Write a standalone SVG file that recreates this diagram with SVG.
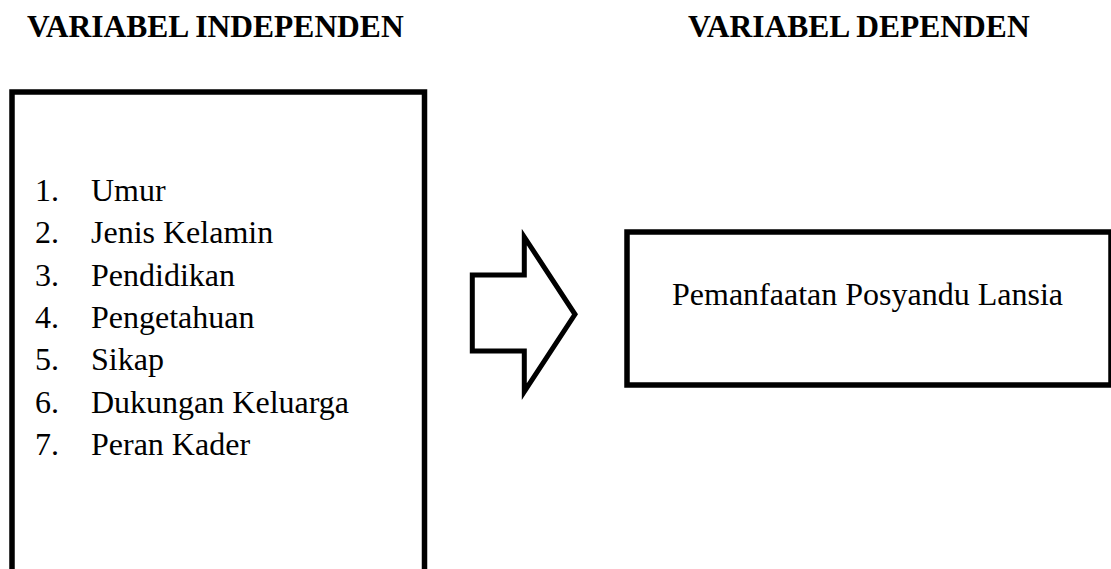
<svg xmlns="http://www.w3.org/2000/svg" width="1111" height="569" viewBox="0 0 1111 569">
<style>
.box{fill:#fff;stroke:#000;stroke-width:5.5;stroke-linejoin:miter}
.t{font-family:"Liberation Serif","Times New Roman",serif;font-size:32px;fill:#000}
.h{font-family:"Liberation Serif","Times New Roman",serif;font-size:31.5px;font-weight:bold;fill:#000}
</style>
<rect width="1111" height="569" fill="#fff"/>
<g id="header-independen"><text class="h" x="27" y="37">VARIABEL INDEPENDEN</text></g>
<g id="header-dependen"><text class="h" x="688" y="37">VARIABEL DEPENDEN</text></g>
<g id="node-independen">
<rect class="box" x="12" y="92" width="412.5" height="500"/>
<g class="t">
<text x="35" y="200.7">1.</text><text x="91" y="200.7">Umur</text>
<text x="35" y="243.1">2.</text><text x="91" y="243.1">Jenis Kelamin</text>
<text x="35" y="285.5">3.</text><text x="91" y="285.5">Pendidikan</text>
<text x="35" y="327.9">4.</text><text x="91" y="327.9">Pengetahuan</text>
<text x="35" y="370.3">5.</text><text x="91" y="370.3">Sikap</text>
<text x="35" y="412.7">6.</text><text x="91" y="412.7">Dukungan Keluarga</text>
<text x="35" y="455.1">7.</text><text x="91" y="455.1">Peran Kader</text>
</g>
</g>
<g id="connectors">
<polygon points="472.3,275 524.3,275 524.3,237 575,314.3 524.3,391.7 524.3,351 472.3,351" fill="#fff" stroke="#000" stroke-width="5" stroke-linejoin="miter"/>
</g>
<g id="node-dependen">
<rect class="box" x="627" y="232" width="484" height="153"/>
<text class="t" x="867.5" y="305" text-anchor="middle">Pemanfaatan Posyandu Lansia</text>
</g>
</svg>
